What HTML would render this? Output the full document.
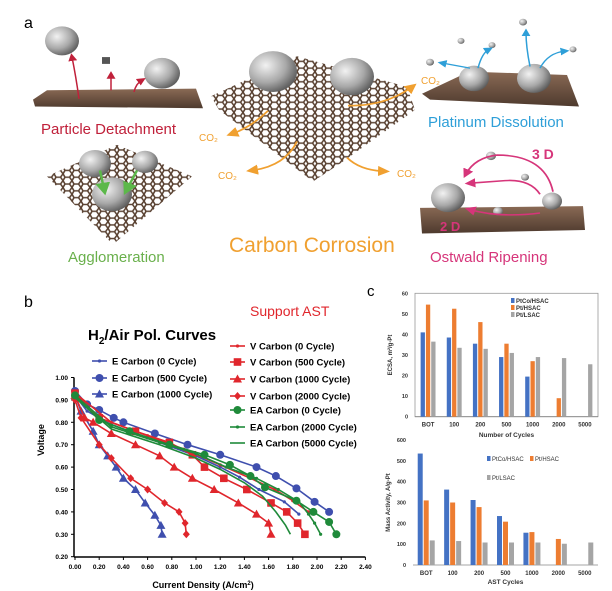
<!DOCTYPE html>
<html><head><meta charset="utf-8">
<style>
body{margin:0;background:#fff;width:612px;height:591px;overflow:hidden;font-family:"Liberation Sans",Arial,sans-serif}
svg{position:absolute;left:0;top:0}
</style></head>
<body>
<svg id="fig" width="612" height="591" viewBox="0 0 612 591" xmlns="http://www.w3.org/2000/svg">
<defs>
<pattern id="hex" width="9" height="8" patternUnits="userSpaceOnUse">
<rect width="9" height="8" fill="#fff"/>
<path d="M0,4 L2,0 L6.5,0 L9,4 L6.5,8 L2,8 Z" fill="none" stroke="#5a4232" stroke-width="1.6"/>
</pattern>
<radialGradient id="sph" cx="0.35" cy="0.35" r="0.7"><stop offset="0" stop-color="#f2f2f2"/><stop offset="0.6" stop-color="#a8a8a8"/><stop offset="1" stop-color="#5c5c5c"/></radialGradient>
<linearGradient id="slab" x1="0" y1="0" x2="0" y2="1"><stop offset="0" stop-color="#8a6a55"/><stop offset="1" stop-color="#4e3a2e"/></linearGradient>
<marker id="arrR" markerWidth="6" markerHeight="6" refX="3" refY="3" orient="auto"><path d="M0,0 L6,3 L0,6 Z" fill="#c0203a"/></marker>
<marker id="arrB" markerWidth="6" markerHeight="6" refX="3" refY="3" orient="auto"><path d="M0,0 L6,3 L0,6 Z" fill="#2e9fd8"/></marker>
<marker id="arrO" markerWidth="6" markerHeight="6" refX="3" refY="3" orient="auto"><path d="M0,0 L6,3 L0,6 Z" fill="#f0a030"/></marker>
<marker id="arrP" markerWidth="6" markerHeight="6" refX="3" refY="3" orient="auto"><path d="M0,0 L6,3 L0,6 Z" fill="#d6357a"/></marker>
<marker id="arrG" markerWidth="6" markerHeight="6" refX="3" refY="3" orient="auto"><path d="M0,0 L6,3 L0,6 Z" fill="#5cb84a"/></marker>
</defs>

<!-- Panel a -->
<g>
<g transform="scale(1,0.852)">
<polygon points="33,117 47,106 196,104 203,127 35,125" fill="url(#slab)"/>
<circle cx="62" cy="48" r="17" fill="url(#sph)"/>
<rect x="102" y="67" width="8" height="8" fill="#555"/>
<circle cx="162" cy="86" r="18" fill="url(#sph)"/>
<path d="M79,116 Q76,90 72,67" stroke="#c0203a" stroke-width="1.5" fill="none" marker-end="url(#arrR)"/>
<path d="M111,106 L111,88" stroke="#c0203a" stroke-width="1.5" fill="none" marker-end="url(#arrR)"/>
<path d="M134,108 Q136,98 142,94" stroke="#c0203a" stroke-width="1.5" fill="none" marker-end="url(#arrR)"/>

<polygon points="211,113 297,66 407,102 415,129 340,192 313,213 219,129" fill="url(#hex)"/>
<circle cx="273" cy="84" r="24" fill="url(#sph)"/>
<circle cx="352" cy="90" r="22" fill="url(#sph)"/>
<path d="M268,130 Q250,150 232,157" stroke="#f0a030" stroke-width="2" fill="none" marker-end="url(#arrO)"/>
<path d="M297,166 Q285,195 252,200" stroke="#f0a030" stroke-width="2" fill="none" marker-end="url(#arrO)"/>
<path d="M347,185 Q360,200 384,201" stroke="#f0a030" stroke-width="2" fill="none" marker-end="url(#arrO)"/>
<path d="M348,124 Q385,125 412,102" stroke="#f0a030" stroke-width="2" fill="none" marker-end="url(#arrO)"/>

<polygon points="422,110 469,84 567,88 579,125 430,117" fill="url(#slab)"/>
<circle cx="474" cy="92" r="15" fill="url(#sph)"/>
<circle cx="534" cy="92" r="17" fill="url(#sph)"/>
<circle cx="430" cy="73" r="4" fill="url(#sph)"/><circle cx="492" cy="53" r="3.5" fill="url(#sph)"/><circle cx="523" cy="26" r="4" fill="url(#sph)"/><circle cx="573" cy="58" r="3.5" fill="url(#sph)"/><circle cx="461" cy="48" r="3.5" fill="url(#sph)"/>
<path d="M470,80 L442,74" stroke="#2e9fd8" stroke-width="1.5" marker-end="url(#arrB)"/>
<path d="M478,80 Q482,62 489,58" stroke="#2e9fd8" stroke-width="1.5" fill="none" marker-end="url(#arrB)"/>
<path d="M530,78 Q526,55 526,38" stroke="#2e9fd8" stroke-width="1.5" fill="none" marker-end="url(#arrB)"/>
<path d="M540,80 Q548,62 565,60" stroke="#2e9fd8" stroke-width="1.5" fill="none" marker-end="url(#arrB)"/>

<polygon points="47,207 117,170 192,207 113,287" fill="url(#hex)"/>
<circle cx="95" cy="192" r="16" fill="url(#sph)"/><circle cx="145" cy="190" r="13" fill="url(#sph)"/><circle cx="112" cy="228" r="20" fill="url(#sph)"/>
<path d="M100,200 L104,222" stroke="#5cb84a" stroke-width="2.5" marker-end="url(#arrG)"/>
<path d="M137,200 L127,222" stroke="#5cb84a" stroke-width="2.5" marker-end="url(#arrG)"/>

<polygon points="420,244 583,242 585,270 422,274" fill="url(#slab)"/>
<circle cx="448" cy="232" r="17" fill="url(#sph)"/>
<circle cx="552" cy="236" r="10" fill="url(#sph)"/><circle cx="491" cy="183" r="5" fill="url(#sph)"/><circle cx="525" cy="208" r="4" fill="url(#sph)"/><circle cx="498" cy="248" r="5" fill="url(#sph)"/>
<path d="M553,225 Q545,182 497,182 Q475,185 466,204" stroke="#d6357a" stroke-width="1.8" fill="none" marker-end="url(#arrP)"/>
<path d="M540,228 Q530,210 505,212 L470,215" stroke="#d6357a" stroke-width="1.8" fill="none" marker-end="url(#arrP)"/>
<path d="M540,250 Q500,256 470,246" stroke="#d6357a" stroke-width="1.8" fill="none" marker-end="url(#arrP)"/>
</g>
<text x="24" y="28" font-size="16">a</text>
<text x="41" y="134" font-size="15" fill="#c0203a">Particle Detachment</text>
<text x="199" y="141" font-size="10" fill="#f0a030">CO₂</text>
<text x="218" y="179" font-size="10" fill="#f0a030">CO₂</text>
<text x="397" y="177" font-size="10" fill="#f0a030">CO₂</text>
<text x="421" y="84" font-size="10" fill="#f0a030">CO₂</text>
<text x="229" y="252" font-size="21" fill="#f0a030">Carbon Corrosion</text>
<text x="428" y="127" font-size="15" fill="#2e9fd8">Platinum Dissolution</text>
<text x="68" y="262" font-size="15" fill="#6ab04c">Agglomeration</text>
<text x="532" y="159" font-size="14" font-weight="bold" fill="#d6357a">3 D</text>
<text x="440" y="231" font-size="13" font-weight="bold" fill="#d6357a">2 D</text>
<text x="430" y="262" font-size="15" fill="#d6357a">Ostwald Ripening</text>
</g>

<!-- Panel b -->
<g id="pb">
<text x="24" y="307" font-size="16">b</text>
<text x="250" y="316" font-size="14" fill="#e0262c">Support AST</text>
<text x="88" y="340" font-size="15" font-weight="bold">H<tspan font-size="10" dy="4">2</tspan><tspan dy="-4">/Air Pol. Curves</tspan></text>
<text transform="translate(44,440) rotate(-90)" font-size="9" font-weight="bold" text-anchor="middle">Voltage</text>
<text x="203" y="588" font-size="9" font-weight="bold" text-anchor="middle">Current Density (A/cm<tspan font-size="6" dy="-3">2</tspan><tspan dy="3">)</tspan></text>
</g>

<!-- Panel c -->
<g id="pc">
<text x="367" y="296" font-size="15">c</text>
</g>

<script>
// ---- Panel b data ----
const bxTicks=[0,0.2,0.4,0.6,0.8,1.0,1.2,1.4,1.6,1.8,2.0,2.2,2.4];
const byTicks=[0.2,0.3,0.4,0.5,0.6,0.7,0.8,0.9,1.0];
const seriesNames=["E Carbon (0 Cycle)","E Carbon (500 Cycle)","E Carbon (1000 Cycle)","V Carbon (0 Cycle)","V Carbon (500 Cycle)","V Carbon (1000 Cycle)","V Carbon (2000 Cycle)","EA Carbon (0 Cycle)","EA Carbon (2000 Cycle)","EA Carbon (5000 Cycle)"];
const e0X=[0,0.1,0.3,0.6,0.8,1.0,1.2,1.36,1.52,1.73,1.85];
const e0Y=[0.92,0.85,0.79,0.73,0.69,0.65,0.60,0.555,0.50,0.445,0.39];
const e500X=[0,0.1,0.2,0.32,0.4,0.66,0.93,1.2,1.5,1.66,1.83,1.98,2.1];
const e500Y=[0.94,0.88,0.855,0.82,0.80,0.75,0.70,0.655,0.60,0.56,0.505,0.445,0.40];
const e1000X=[0,0.05,0.15,0.2,0.27,0.34,0.4,0.5,0.58,0.66,0.71,0.72];
const e1000Y=[0.92,0.85,0.76,0.70,0.65,0.60,0.55,0.50,0.44,0.385,0.34,0.30];
const v0X=[0,0.3,0.6,0.9,1.2,1.45,1.65,1.8,1.93];
const v0Y=[0.93,0.80,0.74,0.68,0.61,0.55,0.50,0.45,0.40];
const v500X=[0,0.2,0.5,0.78,0.97,1.07,1.23,1.42,1.62,1.75,1.84,1.9];
const v500Y=[0.93,0.82,0.76,0.71,0.655,0.60,0.55,0.50,0.44,0.40,0.35,0.30];
const v1000X=[0,0.08,0.15,0.3,0.5,0.7,0.82,0.97,1.15,1.35,1.5,1.6,1.62];
const v1000Y=[0.92,0.82,0.80,0.75,0.70,0.65,0.60,0.55,0.50,0.44,0.39,0.35,0.30];
const v2000X=[0,0.05,0.2,0.3,0.46,0.6,0.74,0.86,0.91,0.92];
const v2000Y=[0.9,0.82,0.70,0.64,0.55,0.50,0.44,0.40,0.35,0.30];
const ea0X=[0,0.2,0.45,0.78,1.07,1.28,1.45,1.57,1.83,1.97,2.1,2.16];
const ea0Y=[0.92,0.81,0.76,0.70,0.655,0.61,0.56,0.51,0.45,0.40,0.355,0.30];
const ea2000X=[0,0.3,0.7,1.0,1.25,1.5,1.68,1.85,1.93,1.98,2.03];
const ea2000Y=[0.92,0.78,0.71,0.66,0.60,0.55,0.50,0.445,0.39,0.35,0.30];
const ea5000X=[0,0.3,0.7,1.0,1.2,1.4,1.55,1.66,1.74,1.78];
const ea5000Y=[0.91,0.77,0.70,0.64,0.59,0.53,0.47,0.40,0.34,0.30];

// ---- Panel c data ----
const cycleCats=["BOT","100","200","500","1000","2000","5000"];
const ecsaPtCo=[41,38.5,35.5,29,19.5,null,null];
const ecsaPtH=[54.5,52.5,46,35.5,27,9,null];
const ecsaPtL=[36.5,33.5,33,31,29,28.5,25.5];
const ecsaTicks=[0,10,20,30,40,50,60];
const maPtCo=[535,362,312,235,155,null,null];
const maPtH=[310,300,278,208,158,125,null];
const maPtL=[118,115,108,108,108,102,108];
const maTicks=[0,100,200,300,400,500,600];

const NS="http://www.w3.org/2000/svg";
function mk(tag,attrs,parent,txt){const e=document.createElementNS(NS,tag);for(const k in attrs)e.setAttribute(k,attrs[k]);if(txt!==undefined)e.textContent=txt;parent.appendChild(e);return e;}

// Panel b
const pb=document.getElementById('pb');
const bx=v=>75+v*121.0;
const by=v=>556.7-(v-0.2)*224;
const axB=mk('g',{},pb);


mk('line',{x1:74,y1:by(1.0),x2:74,y2:557,stroke:'#000','stroke-width':1.5},axB);
mk('line',{x1:74,y1:557,x2:bx(2.4),y2:557,stroke:'#000','stroke-width':1.5},axB);
bxTicks.forEach(t=>{
  mk('line',{x1:bx(t),y1:557,x2:bx(t),y2:560,stroke:'#000'},axB);
  const tx=mk('text',{x:bx(t),y:569,'font-size':6.5,'font-weight':'bold','text-anchor':'middle'},axB,t.toFixed(2));
  
  
});
byTicks.forEach(t=>{
  mk('line',{x1:71,y1:by(t),x2:74,y2:by(t),stroke:'#000'},axB);
  const tx=mk('text',{x:68,y:by(t)+2.5,'font-size':6.5,'font-weight':'bold','text-anchor':'end'},axB,t.toFixed(2));
  
  
});
const BL='#3f4fae',RD='#e0262c',GR='#1f8a3a';
const seriesDefs=[
 [e0X,e0Y,BL,'dot'],[e500X,e500Y,BL,'circle'],[e1000X,e1000Y,BL,'tri'],
 [v0X,v0Y,RD,'dot'],[v500X,v500Y,RD,'square'],[v1000X,v1000Y,RD,'tri'],[v2000X,v2000Y,RD,'diamond'],
 [ea0X,ea0Y,GR,'circle'],[ea2000X,ea2000Y,GR,'dot'],[ea5000X,ea5000Y,GR,'none']];
function marker(g,type,x,y,c){
  let m=null;
  if(type==='circle')m=mk('circle',{cx:x,cy:y,r:4,fill:c},g);
  else if(type==='dot')m=mk('circle',{cx:x,cy:y,r:1.6,fill:c},g);
  else if(type==='square')m=mk('rect',{x:x-3.8,y:y-3.8,width:7.6,height:7.6,fill:c},g);
  else if(type==='tri')m=mk('polygon',{points:`${x},${y-4.5} ${x+4.5},${y+3.5} ${x-4.5},${y+3.5}`,fill:c},g);
  else if(type==='diamond')m=mk('polygon',{points:`${x},${y-4} ${x+3.5},${y} ${x},${y+4} ${x-3.5},${y}`,fill:c},g);
  if(m){}
}
seriesDefs.forEach((s,i)=>{
  const g=mk('g',{},pb);
  
  
  const pts=s[0].map((x,j)=>bx(x)+','+by(s[1][j])).join(' ');
  mk('polyline',{points:pts,fill:'none',stroke:s[2],'stroke-width':1.6},g);
  s[0].forEach((x,j)=>marker(g,s[3],bx(x),by(s[1][j]),s[2]));
});
// Legend b
const legPos=[[92,361],[92,378],[92,394],[230,346],[230,362],[230,379],[230,396],[230,410],[230,427],[230,443]];
seriesDefs.forEach((s,i)=>{
  const g=mk('g',{},pb);
  
  
  const [lx,ly]=legPos[i];
  mk('line',{x1:lx,y1:ly,x2:lx+15,y2:ly,stroke:s[2],'stroke-width':1.6},g);
  marker(g,s[3],lx+7.5,ly,s[2]);
  mk('text',{x:lx+20,y:ly+3.5,'font-size':9.5,'font-weight':'bold'},g,seriesNames[i]);
});

// Panel c
const pc=document.getElementById('pc');
const barCols=['#4472c4','#ed7d31','#a5a5a5'];
function barChart(opts){
  const g=mk('g',{},pc);
  
  
  const {x0,x1,yb,yt,max}=opts;
  const sy=v=>yb-(v/max)*(yb-yt);
  const band=(x1-x0)/cycleCats.length;
  if(opts.frame)mk('rect',{x:x0,y:yt,width:x1-x0,height:yb-yt,fill:'none',stroke:'#999','stroke-width':0.8},g);
  mk('line',{x1:x0,y1:yb,x2:x1,y2:yb,stroke:'#888','stroke-width':0.8},g);
  opts.ticks.forEach(t=>{
    const tx=mk('text',{x:x0-7,y:sy(t)+2,'font-size':5.5,'font-weight':'bold','text-anchor':'end',fill:'#333'},g,t);
    
    
  });
  cycleCats.forEach((c,i)=>{
    const cx=x0+band*(i+0.5);
    const tx=mk('text',{x:cx,y:yb+10,'font-size':6,'font-weight':'bold','text-anchor':'middle',fill:'#333'},g,c);
    
    
    opts.series.forEach((arr,k)=>{
      const v=arr[i]; if(v===null)return;
      const bw=opts.bw;
      const r=mk('rect',{x:cx-1.5*bw-1+k*(bw+1),y:sy(v),width:bw,height:yb-sy(v),fill:barCols[k]},g);
      
      
    });
  });
  const yl=mk('text',{transform:`translate(${opts.ylx},${(yb+yt)/2}) rotate(-90)`,'font-size':6,'font-weight':'bold','text-anchor':'middle',fill:'#333'},g,opts.ylabel);
  
  
  const xl=mk('text',{x:(x0+x1)/2,y:opts.xly,'font-size':6.5,'font-weight':'bold','text-anchor':'middle',fill:'#333'},g,opts.xlabel);
  
  
  opts.legend.forEach((L,k)=>{
    const lg=mk('g',{},g);
    
    
    mk('rect',{x:L[0],y:L[1]-3,width:3.5,height:5,fill:barCols[k]},lg);
    mk('text',{x:L[0]+5,y:L[1]+2,'font-size':6,'font-weight':opts.legBold?'bold':'normal',fill:'#333'},lg,opts.labels[k]);
  });
}
barChart({name:'ecsa-chart',x0:415,x1:598,yb:416.7,yt:293.3,max:60,ticks:ecsaTicks,series:[ecsaPtCo,ecsaPtH,ecsaPtL],short:['ptco-hsac','pt-hsac','pt-lsac'],bw:4.3,frame:true,
  ylabel:'ECSA, m²/g-Pt',ylx:392,xlabel:'Number of Cycles',xly:437,labels:['PtCo/HSAC','Pt/HSAC','Pt/LSAC'],legBold:true,
  legend:[[511,301],[511,308],[511,315]]});
barChart({name:'mass-activity-chart',x0:413,x1:598,yb:565,yt:440,max:600,ticks:maTicks,series:[maPtCo,maPtH,maPtL],short:['ptco-hsac','pt-hsac','pt-lsac'],bw:5,frame:false,
  ylabel:'Mass Activity, A/g-Pt',ylx:390,xlabel:'AST Cycles',xly:584,labels:['PtCo/HSAC','Pt/HSAC','Pt/LSAC'],legBold:false,
  legend:[[487,459],[530,459],[487,478]]});
</script>
</svg>
</body></html>
